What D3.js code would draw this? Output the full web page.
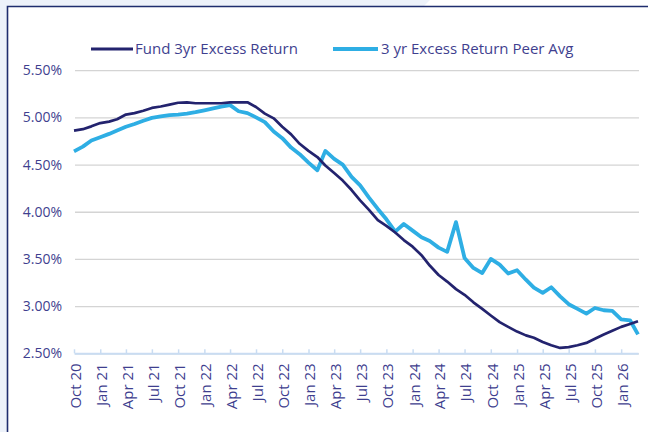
<!DOCTYPE html>
<meta charset="utf-8">
<script src="https://d3js.org/d3.v7.min.js"></script>
<style>
  body { margin: 0; }
  text { font-family: "Open Sans", sans-serif; }
</style>

<div id="my_dataviz"></div>

<script>
// monthly points, Oct 20 .. Mar 26
var startMonth = new Date(2020, 9, 1);
var endMonth = new Date(2026, 2, 1);

var fund = [
  4.86, 4.875, 4.905, 4.94, 4.955, 4.98, 5.03, 5.045, 5.07, 5.10,
  5.115, 5.135, 5.155, 5.16, 5.15, 5.15, 5.15, 5.15, 5.16, 5.16,
  5.16, 5.11, 5.04, 4.99, 4.90, 4.82, 4.72, 4.645, 4.58, 4.49,
  4.41, 4.33, 4.23, 4.12, 4.02, 3.91, 3.85, 3.78, 3.70, 3.63,
  3.54, 3.43, 3.33, 3.26, 3.18, 3.12, 3.04, 2.97, 2.90, 2.83,
  2.78, 2.73, 2.69, 2.665, 2.62, 2.585, 2.557, 2.565, 2.585, 2.61,
  2.655, 2.70, 2.74, 2.78, 2.81, 2.84
];

var peer = [
  4.64, 4.69, 4.755, 4.79, 4.825, 4.86, 4.90, 4.93, 4.965, 4.995,
  5.01, 5.025, 5.03, 5.04, 5.055, 5.075, 5.095, 5.115, 5.13, 5.065,
  5.045, 5.00, 4.95, 4.85, 4.78, 4.68, 4.61, 4.52, 4.44, 4.645,
  4.56, 4.50, 4.37, 4.28, 4.15, 4.03, 3.92, 3.79, 3.87, 3.80,
  3.73, 3.69, 3.62, 3.575, 3.89, 3.51, 3.405, 3.35, 3.50, 3.44,
  3.345, 3.38, 3.28, 3.195, 3.14, 3.20, 3.104, 3.02, 2.97, 2.92,
  2.98, 2.956, 2.95, 2.86, 2.85, 2.70
];

var yTicks = [2.5, 3.0, 3.5, 4.0, 4.5, 5.0, 5.5];
var seriesNames = ["Fund 3yr Excess Return", "3 yr Excess Return Peer Avg"];
var seriesColors = ["#23236e", "#2eaee4"];

var months = d3.timeMonth.range(startMonth, d3.timeMonth.offset(endMonth, 1));
var tickMonths = d3.timeMonth.every(3).range(startMonth, endMonth)
  .filter(function(d) { return d.getMonth() % 3 === 0; });

var W = 648, H = 432;
var textColor = "#3f3f8f";

var svg = d3.select("#my_dataviz")
  .append("svg")
    .attr("width", W)
    .attr("height", H)
    .style("display", "block");

// page background + frame
svg.append("rect").attr("width", W).attr("height", H).attr("fill", "#edf2fa");
svg.append("polygon").attr("points", "430,0 648,0 648,7 423,7").attr("fill", "#ffffff");
svg.append("rect").attr("x", 7).attr("y", 6).attr("width", W - 7).attr("height", H - 6).attr("fill", "#ffffff");
svg.append("path").attr("d", "M7.5," + H + "V6.5H" + W)
  .attr("fill", "none").attr("stroke", "#1f2d6e").attr("stroke-width", 1.6);

// plot box (window.top is reserved, so use a prefix)
var plotLeft = 74, plotRight = 638, plotTop = 70.2, plotBottom = 353.3;

var x = d3.scaleTime()
  .domain([startMonth, endMonth])
  .range([plotLeft, plotRight]);

var y = d3.scaleLinear()
  .domain([2.5, 5.5])
  .range([plotBottom, plotTop]);

// Y axis with gridlines
var yAxis = svg.append("g")
  .attr("transform", "translate(" + (plotLeft + 1) + ",0)")
  .call(d3.axisLeft(y).tickValues(yTicks).tickSize(-(plotRight - plotLeft)).tickPadding(13)
    .tickFormat(function(d) { return d.toFixed(2) + "%"; }));
yAxis.select(".domain").remove();
yAxis.selectAll(".tick line").attr("stroke", "#d4d4d4").attr("stroke-width", 1.3);
yAxis.selectAll(".tick text").attr("fill", textColor).style("font-size", "14px");

// X axis
var xAxis = svg.append("g")
  .attr("transform", "translate(0," + plotBottom + ")")
  .call(d3.axisBottom(x).tickValues(tickMonths).tickSize(-4).tickSizeOuter(0)
    .tickFormat(d3.timeFormat("%b %y")));
xAxis.select(".domain").attr("stroke", "#c9dcf2").attr("stroke-width", 2);
xAxis.selectAll(".tick line").attr("stroke", "#c9dcf2").attr("stroke-width", 1.5);
xAxis.selectAll(".tick text")
  .attr("fill", textColor)
  .style("font-size", "15px")
  .attr("text-anchor", "end")
  .attr("transform", "rotate(-90)")
  .attr("x", -10)
  .attr("y", 1)
  .attr("dy", "0.36em");

// lines
var line = d3.line()
  .x(function(d, i) { return x(months[i]); })
  .y(function(d) { return y(d); });

svg.append("path")
  .datum(peer)
  .attr("fill", "none")
  .attr("stroke", seriesColors[1])
  .attr("stroke-width", 3.8)
  .attr("stroke-linejoin", "round")
  .attr("d", line);

svg.append("path")
  .datum(fund)
  .attr("fill", "none")
  .attr("stroke", seriesColors[0])
  .attr("stroke-width", 2.7)
  .attr("stroke-linejoin", "round")
  .attr("d", line);

// legend
var legendPos = [[91, 133, 135], [333, 378, 381]];
seriesNames.forEach(function(name, i) {
  var p = legendPos[i];
  svg.append("line")
    .attr("x1", p[0]).attr("x2", p[1])
    .attr("y1", 49).attr("y2", 49)
    .attr("stroke", seriesColors[i])
    .attr("stroke-width", i === 0 ? 3 : 3.8);
  svg.append("text")
    .attr("x", p[2]).attr("y", 54)
    .attr("fill", textColor)
    .style("font-size", "15px")
    .text(name);
});
</script>
